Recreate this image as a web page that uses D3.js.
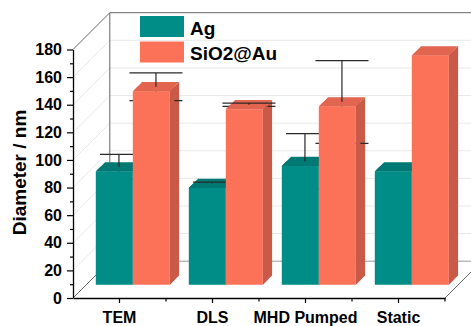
<!DOCTYPE html>
<html>
<head>
<meta charset="utf-8">
<script src="https://cdn.jsdelivr.net/npm/d3@7"></script>
<style>
  body { margin: 0; background: #fff; }
  svg { display: block; font-family: "Liberation Sans", Arial, sans-serif; font-weight: bold; }
</style>
</head>
<body>
<div id="chart"></div>
<script>
  // data
  const categories = ["TEM", "DLS", "MHD Pumped", "Static"]
  const series = ["Ag", "SiO2@Au"]
  const agValues = [82, 70, 86, 82]
  const auValues = [140, 127, 129, 166]
  const agErrors = [9, 1, 20, 0]
  const auErrors = [10, 1.2, 30, 0]
  const yTicks = [0, 20, 40, 60, 80, 100, 120, 140, 160, 180]
  const yMinor = [10, 30, 50, 70, 90, 110, 130, 150, 170]

  const width = 471
  const height = 326
  const margin = { top: 49.5, bottom: 28, left: 73, right: 26 }

  // depth of the 3d box, in px along the (+1,-1) diagonal
  const zWall = 36.8, zFront = 13.3, zBack = 22.6, zMid = (zFront + zBack) / 2

  const colors = {
    "Ag": { front: "#008c87", top: "#007873", side: "#006e6a" },
    "SiO2@Au": { front: "#fb7258", top: "#e26550", side: "#ca5a48" }
  }
  const capHalf = { "Ag": 19, "SiO2@Au": 26.5 }

  const svg = d3.select("#chart").append("svg")
    .attr("width", width)
    .attr("height", height)

  const x = d3.scaleBand()
    .domain(categories)
    .range([margin.left, width - margin.right])
    .padding(0)

  const xs = d3.scaleBand()
    .domain(series)
    .range([-37, 37])

  const y = d3.scaleLinear()
    .domain([0, 180])
    .range([height - margin.bottom, margin.top])

  const P = (px, v, z) => [px + z, y(v) - z]
  const poly = pts => "M" + pts.map(p => p.join(",")).join("L") + "Z"

  // walls
  const walls = svg.append("g").attr("fill", "none")
  yTicks.forEach(v => {
    const edge = v == 0 || v == 180
    walls.append("line")
      .attr("x1", margin.left).attr("y1", y(v))
      .attr("x2", margin.left + zWall).attr("y2", y(v) - zWall)
      .attr("stroke", edge ? "#666" : "#e2e2e2")
      .attr("stroke-width", edge ? 1 : 0.8)
    walls.append("line")
      .attr("x1", margin.left + zWall).attr("y1", y(v) - zWall)
      .attr("x2", width - margin.right + zWall).attr("y2", y(v) - zWall)
      .attr("stroke", v == 180 ? "#666" : (v == 0 ? "#999" : "#e2e2e2"))
      .attr("stroke-width", edge ? 1 : 0.8)
  })
  walls.append("line")
    .attr("x1", margin.left + zWall).attr("y1", y(0) - zWall)
    .attr("x2", margin.left + zWall).attr("y2", y(180) - zWall)
    .attr("stroke", "#666")
  walls.append("line")
    .attr("x1", width - margin.right).attr("y1", y(0))
    .attr("x2", width - margin.right + zWall).attr("y2", y(0) - zWall)
    .attr("stroke", "#666")

  // bars
  const rows = []
  categories.forEach((c, i) => {
    rows.push({ cat: c, s: "Ag", v: agValues[i], e: agErrors[i] })
    rows.push({ cat: c, s: "SiO2@Au", v: auValues[i], e: auErrors[i] })
  })

  const bars = svg.append("g")
  rows.forEach(d => {
    const x0 = x(d.cat) + x.bandwidth() / 2 + xs(d.s)
    const x1 = x0 + xs.bandwidth()
    const col = colors[d.s]
    const g = bars.append("g")

    const faces = (zb) => {
      g.append("path").attr("fill", col.side)
        .attr("d", poly([P(x1, 0, zFront), P(x1, 0, zb), P(x1, d.v, zb), P(x1, d.v, zFront)]))
      g.append("path").attr("fill", col.top)
        .attr("d", poly([P(x0, d.v, zFront), P(x1, d.v, zFront), P(x1, d.v, zb), P(x0, d.v, zb)]))
    }
    faces(zBack)

    if (d.e > 0) {
      const cx = (x0 + x1) / 2
      const eb = g.append("g").attr("stroke", "#2a2a2a").attr("stroke-width", 1.2)
      const lo = P(cx, d.v - d.e, zMid), hi = P(cx, d.v + d.e, zMid)
      eb.append("line").attr("x1", lo[0]).attr("y1", lo[1]).attr("x2", hi[0]).attr("y2", hi[1])
      ;[lo, hi].forEach(p => {
        eb.append("line")
          .attr("x1", p[0] - capHalf[d.s]).attr("x2", p[0] + capHalf[d.s])
          .attr("y1", p[1]).attr("y2", p[1])
      })
    }

    faces(zMid)
    g.append("path").attr("fill", col.front)
      .attr("d", poly([P(x0, 0, zFront), P(x1, 0, zFront), P(x1, d.v, zFront), P(x0, d.v, zFront)]))
  })

  // axes
  const xAxis = svg.append("g")
    .attr("transform", `translate(0,${y(0)})`)
    .call(d3.axisBottom(x).tickSize(5).tickSizeOuter(0).tickPadding(8.5))
  xAxis.selectAll("text").attr("font-size", 16).attr("fill", "#000").attr("font-family", null)
  xAxis.attr("font-family", null)
  xAxis.select(".domain").attr("stroke-width", 1.3)
  xAxis.selectAll(".tick line").attr("stroke-width", 1.2)
  categories.slice(1).concat(["end"]).forEach((c, i) => {
    const px = c == "end" ? x.range()[1] : x(c)
    xAxis.append("line")
      .attr("x1", px).attr("x2", px).attr("y1", 0).attr("y2", 3.5)
      .attr("stroke", "#000").attr("stroke-width", 1.2)
  })

  const yAxis = svg.append("g")
    .attr("transform", `translate(${margin.left},0)`)
    .call(d3.axisLeft(y).tickValues(yTicks).tickSize(6).tickSizeOuter(0).tickPadding(5))
  yAxis.attr("font-family", null)
  yAxis.selectAll("text").attr("font-size", 16).attr("fill", "#000")
  yAxis.select(".domain").attr("stroke-width", 1.3)
  yAxis.selectAll(".tick line").attr("stroke-width", 1.2)
  svg.append("g")
    .attr("transform", `translate(${margin.left},0)`)
    .call(d3.axisLeft(y).tickValues(yMinor).tickSize(3).tickFormat(""))
    .call(g => g.select(".domain").remove())
    .selectAll("line").attr("stroke-width", 1.2)

  svg.append("text")
    .attr("transform", `translate(26,172.5) rotate(-90)`)
    .attr("text-anchor", "middle")
    .attr("font-size", 19)
    .text("Diameter / nm")

  // legend
  const legend = svg.append("g")
  series.forEach((s, i) => {
    legend.append("rect")
      .attr("x", 140).attr("y", 16 + i * 25.5)
      .attr("width", 44).attr("height", 21)
      .attr("fill", colors[s].front)
    legend.append("text")
      .attr("x", 190).attr("y", 35 + i * 25.3)
      .attr("font-size", 19)
      .text(s)
  })
</script>
</body>
</html>
